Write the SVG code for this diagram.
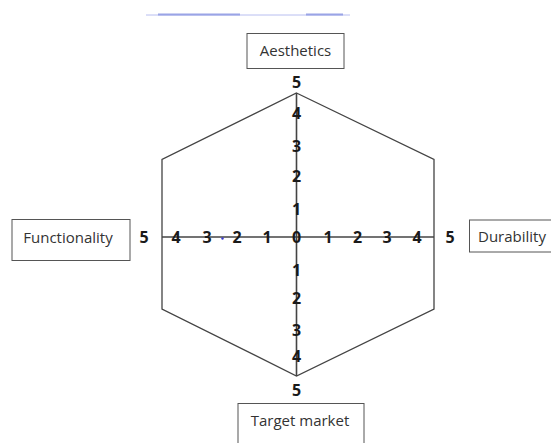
<svg xmlns="http://www.w3.org/2000/svg" width="551" height="443" viewBox="0 0 551 443">
<style>
.box{fill:#fff;stroke:#555;stroke-width:1}
.lbl{font-family:"Open Sans","Noto Sans",sans-serif;font-size:15px;fill:#333;text-anchor:middle}
.num{font-family:"Noto Sans","Open Sans",sans-serif;font-size:16px;font-weight:bold;fill:#1a1a1a;text-anchor:middle}
.hex{fill:none;stroke:#444;stroke-width:1.3}
.axis{stroke:#444;stroke-width:1.6}
</style>
<rect width="551" height="443" fill="#fff"/>
<g id="top-line">
<line x1="146" y1="15" x2="350" y2="15" stroke="#b8bef0" stroke-width="1"/>
<line x1="158" y1="14.5" x2="240" y2="14.5" stroke="#9aa4e6" stroke-width="1.8"/>
<line x1="306" y1="14.5" x2="343" y2="14.5" stroke="#9aa4e6" stroke-width="1.8"/>
</g>
<g id="connectors">
<polygon class="hex" points="296.5,93 434,159.5 434,309 296.5,376 162,309 162,159.5"/>
<line class="axis" x1="296.5" y1="93" x2="296.5" y2="376"/>
<line class="axis" x1="162" y1="237" x2="434" y2="237"/>
</g>
<g id="vertical-scale">
<text class="num" x="296.5" y="88">5</text>
<text class="num" x="296.5" y="119">4</text>
<text class="num" x="296.5" y="152">3</text>
<text class="num" x="296.5" y="182">2</text>
<text class="num" x="296.5" y="215">1</text>
<text class="num" x="296.5" y="243">0</text>
<text class="num" x="296.5" y="276">1</text>
<text class="num" x="296.5" y="304">2</text>
<text class="num" x="296.5" y="336">3</text>
<text class="num" x="296.5" y="362">4</text>
<text class="num" x="296.5" y="396">5</text>
</g>
<g id="horizontal-scale">
<text class="num" x="144" y="243">5</text>
<text class="num" x="176" y="243">4</text>
<text class="num" x="207" y="243">3</text>
<text class="num" x="237" y="243">2</text>
<text class="num" x="267" y="243">1</text>
<text class="num" x="328" y="243">1</text>
<text class="num" x="357.5" y="243">2</text>
<text class="num" x="387" y="243">3</text>
<text class="num" x="417" y="243">4</text>
<text class="num" x="450" y="243">5</text>
<circle cx="222.5" cy="238.5" r="1.2" fill="#3a3ad0"/>
</g>
<g id="aesthetics">
<rect class="box" x="247" y="33.5" width="97" height="35"/>
<text class="lbl" x="295.5" y="56">Aesthetics</text>
</g>
<g id="functionality">
<rect class="box" x="12" y="219.5" width="118" height="41"/>
<text class="lbl" x="68" y="243">Functionality</text>
</g>
<g id="durability">
<rect class="box" x="469.5" y="220" width="90" height="32"/>
<text class="lbl" x="478" y="242" style="text-anchor:start">Durability</text>
</g>
<g id="target-market">
<rect class="box" x="238" y="403.5" width="126" height="45"/>
<text class="lbl" x="300" y="426">Target market</text>
</g>
</svg>
